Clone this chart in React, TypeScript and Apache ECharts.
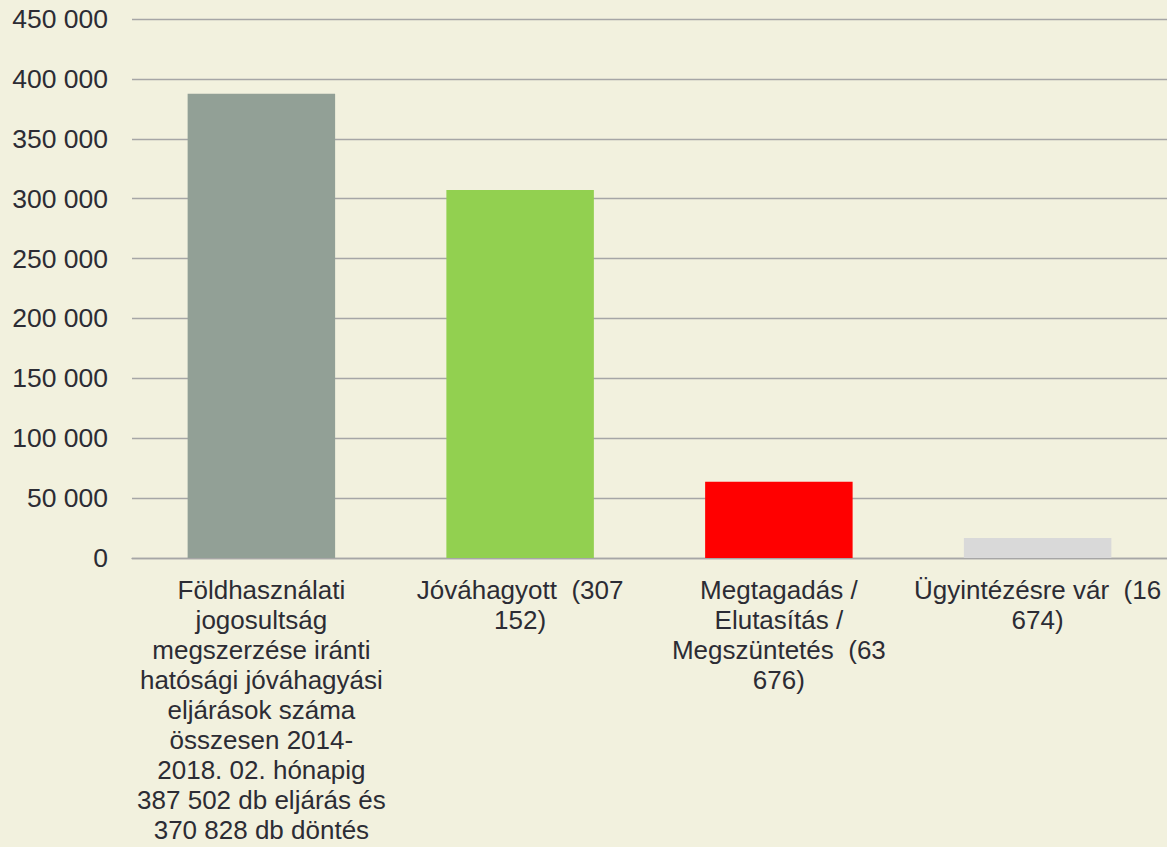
import React, { useEffect, useRef } from "react";
import * as echarts from "echarts";

const categories: string[] = [
  "Földhasználati\njogosultság\nmegszerzése iránti\nhatósági jóváhagyási\neljárások száma\nösszesen 2014-\n2018. 02. hónapig\n387 502 db eljárás és\n370 828 db döntés",
  "Jóváhagyott  (307\n152)",
  "Megtagadás /\nElutasítás /\nMegszüntetés  (63\n676)",
  "Ügyintézésre vár  (16\n674)",
];
const values: number[] = [387502, 307152, 63676, 16674];
const barColors: string[] = ["#92A096", "#92D050", "#FF0000", "#D9D9D9"];
const yTicks: number[] = [0, 50000, 100000, 150000, 200000, 250000, 300000, 350000, 400000, 450000];

const FONT = "'Liberation Sans', Arial, sans-serif";
const TEXT = "#2C2C34";

function fmt(v: number): string {
  const s = String(Math.round(v));
  return s.replace(/\B(?=(\d{3})+(?!\d))/g, " ");
}

export default function App() {
  const ref = useRef<HTMLDivElement>(null);
  useEffect(() => {
    if (!ref.current) return;
    const chart = echarts.init(ref.current, undefined, { renderer: "svg" });
    chart.setOption({
      animation: false,
      backgroundColor: "#F2F1DE",
      grid: { left: 132, right: 0, top: 19, bottom: 289, containLabel: false },
      xAxis: {
        type: "category",
        data: categories,
        axisLine: { show: true, lineStyle: { color: "#A6A6A6", width: 1.3 } },
        axisTick: { show: false },
        axisLabel: {
          interval: 0,
          margin: 17,
          color: TEXT,
          fontFamily: FONT,
          fontSize: 26,
          lineHeight: 30,
          align: "center",
        },
      },
      yAxis: {
        type: "value",
        min: yTicks[0],
        max: yTicks[yTicks.length - 1],
        interval: 50000,
        axisLine: { show: false },
        axisTick: { show: false },
        splitLine: { show: true, lineStyle: { color: "#A6A6A6", width: 1.3 } },
        axisLabel: {
          margin: 24,
          color: TEXT,
          fontFamily: FONT,
          fontSize: 26.5,
          formatter: (v: number) => fmt(v),
        },
      },
      series: [
        {
          type: "bar",
          barWidth: "57%",
          data: values.map((v, i) => ({ value: v, itemStyle: { color: barColors[i] } })),
        },
      ],
    });
    return () => chart.dispose();
  }, []);
  return (
    <div
      ref={ref}
      style={{ position: "fixed", left: 0, top: 0, width: 1167, height: 847 }}
    />
  );
}
